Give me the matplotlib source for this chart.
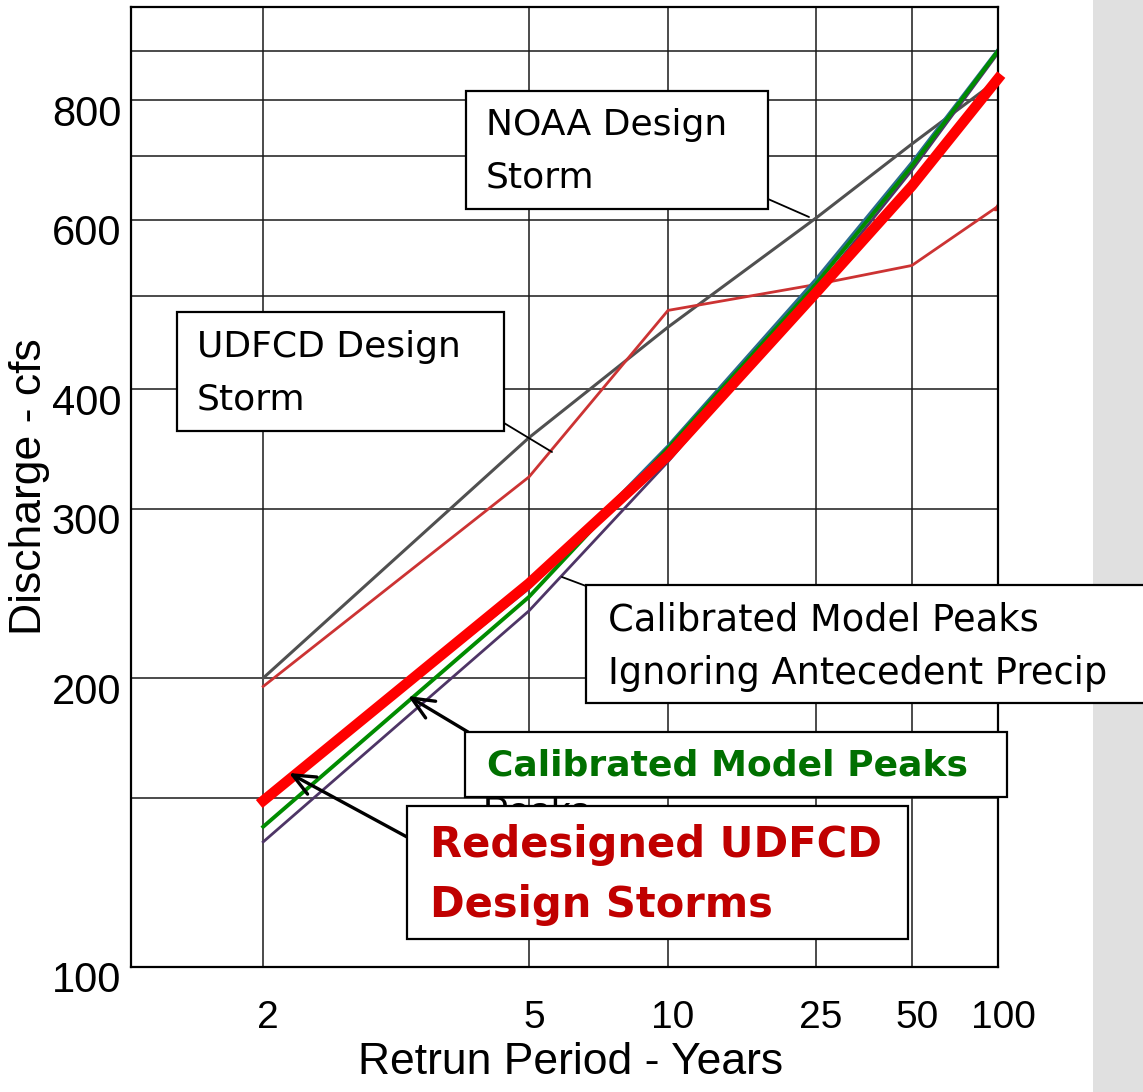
import math
import numpy as np
import matplotlib
matplotlib.use('Agg')
import matplotlib.pyplot as plt
from matplotlib.patches import Rectangle
from matplotlib.ticker import NullLocator, NullFormatter
from matplotlib.transforms import ScaledTranslation, Bbox

W, H = 1143, 1092
ARIAL = ['Liberation Sans']
BOXFONT = ['DejaVu Sans']

# data (discharge in cfs per return period)
return_periods = [2, 5, 10, 25, 50, 100]
noaa_design = [200, 356, 464, 603, 720, 840]
udfcd_design = [196, 324, 483, 514, 538, 620]
calib_ignoring_ante = [135, 235, 336, 508, 676, 895]
calib_other = [149, 248, 349, 521, 689, 903]
calib_peaks = [140, 243, 347, 515, 683, 900]
redesigned = [149, 251, 341, 504, 651, 842]

y_ticks = [100, 200, 300, 400, 600, 800]
y_minor = [150, 500, 700, 900]


# normal probability scale for return period
_erf = np.vectorize(math.erf)
Z_GRID = np.linspace(-6, 6, 24001)


def norm_cdf(z):
    return 0.5 * (1.0 + _erf(np.asarray(z, float) / math.sqrt(2.0)))


P_GRID = norm_cdf(Z_GRID)


def period_to_z(t):
    t = np.clip(np.asarray(t, float), 1.0001, None)
    return np.interp(1.0 - 1.0 / t, P_GRID, Z_GRID)


def z_to_period(z):
    p = norm_cdf(z)
    return 1.0 / np.clip(1.0 - p, 1e-12, None)


fig = plt.figure(figsize=(W / 100, H / 100), dpi=100)
ax = fig.add_axes([131 / W, 1 - 967 / H, 867 / W, 960 / H])

ax.set_xscale('function', functions=(period_to_z, z_to_period))
ax.set_yscale('log')

ax.plot(return_periods, noaa_design, color='#505050', lw=2.2, zorder=2.1)
ax.plot(return_periods, udfcd_design, color='#cc3333', lw=2.0, zorder=2.2,
        marker='^', markevery=[len(return_periods) - 1], markersize=6)
ax.plot(return_periods, calib_ignoring_ante, color='#4e3566', lw=2.0, zorder=2.3)
ax.plot(return_periods, calib_other, color='#2a6b90', lw=2.2, zorder=2.4)
ax.plot(return_periods, calib_peaks, color='#008c00', lw=2.8, zorder=2.5)
ax.plot(return_periods, redesigned, color='#ff0000', lw=7.5, zorder=2.6,
        solid_capstyle='projecting', clip_on=False)

ax.set_xlim(1.51, 100)
ax.set_ylim(100, 1000)

ax.set_xticks(return_periods)
ax.set_xticklabels([str(t) for t in return_periods])
ax.xaxis.set_minor_locator(NullLocator())
ax.set_yticks(y_ticks)
ax.set_yticklabels([str(v) for v in y_ticks])
ax.set_yticks(y_minor, minor=True)
ax.yaxis.set_minor_formatter(NullFormatter())

ax.grid(True, which='both', color='#1a1a1a', lw=1.1)
ax.tick_params(which='both', length=0)
ax.tick_params(axis='y', pad=7)
ax.tick_params(axis='x', pad=24)
for sp in ax.spines.values():
    sp.set_linewidth(1.6)
    sp.set_color('black')

for lab in ax.get_yticklabels():
    lab.set_fontfamily(ARIAL)
    lab.set_fontsize(30)
    lab.set_transform(lab.get_transform() + ScaledTranslation(0, -0.10, fig.dpi_scale_trans))
for lab in ax.get_xticklabels():
    lab.set_fontfamily(ARIAL)
    lab.set_fontsize(28)
    lab.set_transform(lab.get_transform() + ScaledTranslation(0.05, 0, fig.dpi_scale_trans))

ax.set_ylabel('Discharge - cfs', fontsize=32, family=ARIAL)
ax.yaxis.set_label_coords(-0.093, 0.5)
ax.set_xlabel('Retrun Period - Years', fontsize=32, family=ARIAL)
ax.xaxis.set_label_coords(0.507, -0.078)

# textured slide edge on the right
fig.add_artist(Rectangle((1093 / W, 0), (W - 1093) / W, 1, transform=fig.transFigure,
                         facecolor='#e0e0e0', edgecolor='none', zorder=-1))


def leader(x0, y0, x1, y1, arrow=False):
    style = '->,head_length=1.6,head_width=0.7' if arrow else '-'
    ax.annotate('', xy=(x1, H - y1), xycoords='figure pixels',
                xytext=(x0, H - y0), textcoords='figure pixels',
                annotation_clip=False, zorder=8,
                arrowprops=dict(arrowstyle=style, color='black',
                                lw=2.4 if arrow else 1.3,
                                shrinkA=0, shrinkB=0, mutation_scale=10))


def note_box(x0, y0, x1, y1, lines, text_x, centers, **kw):
    fig.add_artist(Rectangle((x0 / W, 1 - y1 / H), (x1 - x0) / W, (y1 - y0) / H,
                             transform=fig.transFigure, facecolor='white',
                             edgecolor='black', lw=1.6, zorder=5))
    for s, yc in zip(lines, centers):
        fig.text(text_x / W, 1 - yc / H, s, ha='left', va='center', zorder=6, **kw)


# leader lines and arrows
leader(768, 199, 809, 217)
leader(504, 423, 552, 452)
leader(586, 586, 562, 577)
leader(468, 732, 408, 696, arrow=True)
leader(407, 837, 289, 773, arrow=True)

# text hidden behind the boxes, only a sliver shows between them
ghost = fig.text(537 / W, 1 - 824 / H, 'Peaks', ha='center', va='baseline', fontsize=28,
                 family=ARIAL, zorder=4)
ghost.set_clip_box(Bbox([[480, H - 806], [600, H - 797]]))

note_box(466, 91, 768, 209, ['NOAA Design', 'Storm'], 486, [125, 178],
         fontsize=26, family=BOXFONT, color='black')
note_box(177, 312, 504, 431, ['UDFCD Design', 'Storm'], 197, [347, 400],
         fontsize=26, family=BOXFONT, color='black')
note_box(586, 585, 1150, 703, ['Calibrated Model Peaks', 'Ignoring Antecedent Precip'],
         608, [620, 673], fontsize=26.5, family=BOXFONT, color='black')
note_box(465, 732, 1007, 797, ['Calibrated Model Peaks'], 487, [766],
         fontsize=26, family=BOXFONT, weight='bold', color='#007000')
note_box(407, 806, 908, 939, ['Redesigned UDFCD', 'Design Storms'], 430, [845, 905],
         fontsize=30, family=BOXFONT, weight='bold', color='#c00000')

fig.savefig('out.png', dpi=100)
